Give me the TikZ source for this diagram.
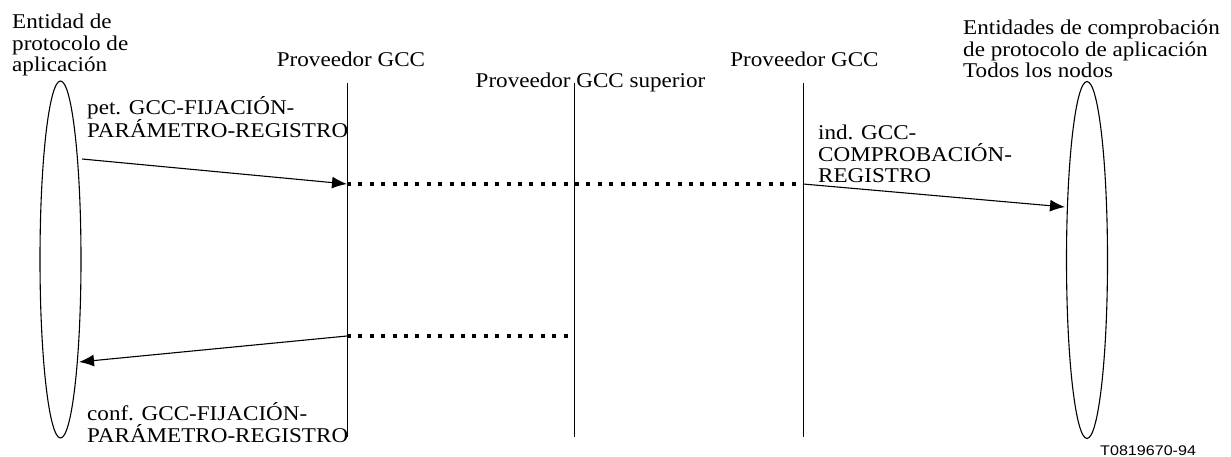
\documentclass[tikz,border=0pt]{standalone}
\usepackage{fontspec}
\setmainfont{Liberation Serif}[FakeStretch=1.1]
\newfontfamily\codefont{Liberation Sans}[FakeStretch=1.15]
\usetikzlibrary{shapes.geometric,arrows.meta}
\begin{document}
\begin{tikzpicture}[x=1pt,y=-1pt,
  lbl/.style={inner sep=0pt,align=left,font=\fontsize{21}{21.7}\selectfont},
  ctr/.style={inner sep=0pt,font=\fontsize{21}{21.7}\selectfont},
  entity/.style={draw,line width=1.1pt,ellipse,inner sep=0pt,minimum width=41pt,minimum height=357pt},
  lifeline/.style={line width=0.9pt},
  msg/.style={line width=1.1pt,-{Latex[length=15pt,width=12pt]}},
  relay/.style={line width=4pt,dash pattern=on 4pt off 7.4pt}]
\useasboundingbox (0,0) rectangle (1231,457);
% entities
\node[entity] (L) at (60.5,259.5) {};
\node[entity] (R) at (1087,260) {};
% lifelines
\coordinate (p1t) at (347,83); \coordinate (p1b) at (347,437);
\coordinate (p2t) at (574,83); \coordinate (p2b) at (574,437);
\coordinate (p3t) at (803,83); \coordinate (p3b) at (803,437);
\draw[lifeline] (p1t) -- (p1b);
\draw[lifeline] (p2t) -- (p2b);
\draw[lifeline] (p3t) -- (p3b);
% message points
\coordinate (a1) at (82,159);
\coordinate (m1) at (347,184);
\coordinate (m2) at (803,184);
\coordinate (m3) at (1065,207);
\coordinate (m4) at (347,336);
\coordinate (m5) at (574,336);
\coordinate (m6) at (79,362);
\draw[relay] (m1) -- (m2);
\draw[relay] (m4) -- (m5);
\draw[msg] (a1) -- (m1);
\draw[msg] (m2) -- (m3);
\draw[msg] (m4) -- (m6);
% labels (base anchor = baseline of the last line)
\node[lbl,anchor=base west] (tl) at (12,72) {Entidad de\\protocolo de\\aplicación};
\node[ctr,anchor=base] (h1) at (351,67) {Proveedor GCC};
\node[ctr,anchor=base] (h2) at (590.5,88) {Proveedor GCC superior};
\node[ctr,anchor=base] (h3) at (804.5,67) {Proveedor GCC};
\node[lbl,anchor=base west] (tr) at (963,78) {Entidades de comprobación\\de protocolo de aplicación\\Todos los nodos};
\node[lbl,anchor=base west] (t1) at (87,138) {pet. GCC-FIJACIÓN-\\PARÁMETRO-REGISTRO};
\node[lbl,anchor=base west] (t2) at (818,183) {ind. GCC-\\COMPROBACIÓN-\\REGISTRO};
\node[lbl,anchor=base west] (t3) at (87,442) {conf. GCC-FIJACIÓN-\\PARÁMETRO-REGISTRO};
\node[inner sep=0pt,anchor=base west,font=\codefont\fontsize{14}{16}\selectfont] (code) at (1100,455) {T0819670-94};
\end{tikzpicture}
\end{document}
